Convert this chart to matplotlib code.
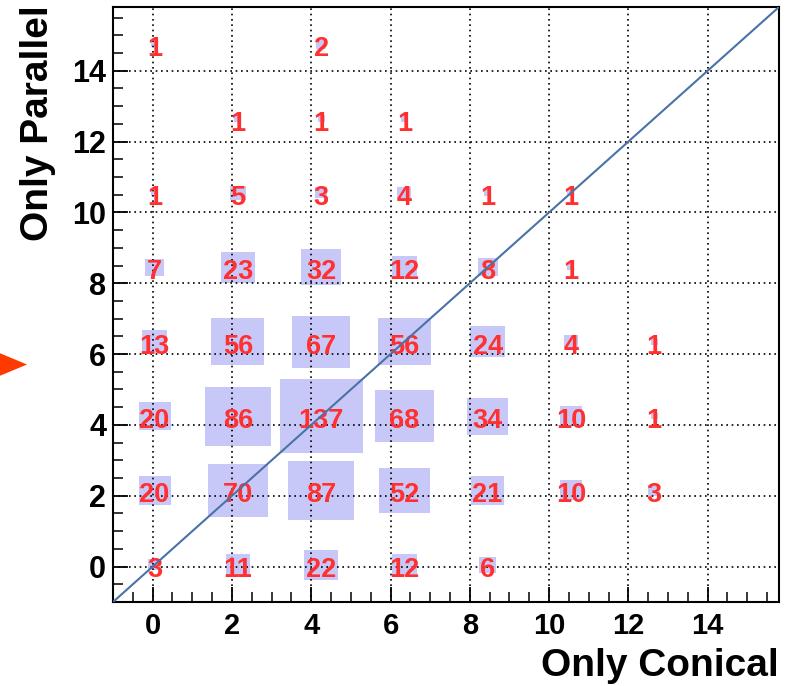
import numpy as np
import matplotlib
matplotlib.use("Agg")
import matplotlib.pyplot as plt
from matplotlib.patches import Rectangle, Polygon
from matplotlib.transforms import ScaledTranslation

# Histogram binning (same on both axes)
axis_lo = -1.0
bin_width = 2.1
n_bins = 8

# Event counts per cell: one list per "Only Parallel" bin (bottom to top),
# entries run over "Only Conical" bins (left to right); 0 = empty cell
counts_par0 = [3, 11, 22, 12, 6, 0, 0, 0]
counts_par1 = [20, 70, 87, 52, 21, 10, 3, 0]
counts_par2 = [20, 86, 137, 68, 34, 10, 1, 0]
counts_par3 = [13, 56, 67, 56, 24, 4, 1, 0]
counts_par4 = [7, 23, 32, 12, 8, 1, 0, 0]
counts_par5 = [1, 5, 3, 4, 1, 1, 0, 0]
counts_par6 = [0, 1, 1, 1, 0, 0, 0, 0]
counts_par7 = [1, 0, 2, 0, 0, 0, 0, 0]

x_label = "Only Conical"
y_label = "Only Parallel"
tick_values = [0, 2, 4, 6, 8, 10, 12, 14]

counts = np.array([counts_par0, counts_par1, counts_par2, counts_par3,
                   counts_par4, counts_par5, counts_par6, counts_par7])
edges = axis_lo + bin_width * np.arange(n_bins + 1)
centers = 0.5 * (edges[:-1] + edges[1:])
axis_hi = edges[-1]

plt.rcParams["font.family"] = ["Liberation Sans", "DejaVu Sans"]
plt.rcParams["font.weight"] = "bold"

W, H = 789, 686
fig = plt.figure(figsize=(W / 100, H / 100), dpi=100)
ax = fig.add_axes([113 / W, 1 - 602 / H, (779 - 113) / W, (602 - 7) / H])
ax.set_xlim(axis_lo, axis_hi)
ax.set_ylim(axis_lo, axis_hi)

# Boxes: area proportional to the cell content
box_color = "#c8c8f8"
text_color = "#ff3030"
cmax = counts.max()
for iy, yc in enumerate(centers):
    for ix, xc in enumerate(centers):
        c = counts[iy, ix]
        if c <= 0:
            continue
        side = bin_width * np.sqrt(c / cmax)
        ax.add_patch(Rectangle((xc - side / 2, yc - side / 2), side, side,
                               facecolor=box_color, edgecolor="none", zorder=1))

# Dotted grid at the major ticks
for v in tick_values:
    ax.axvline(v, color="black", lw=1.2, ls=(0, (1, 2.2)), zorder=2)
    ax.axhline(v, color="black", lw=1.2, ls=(0, (1, 2.2)), zorder=2)

# Cell contents as text (digits optically centred in the cell)
text_shift = ax.transData + ScaledTranslation(0, -5 / 100, fig.dpi_scale_trans)
for iy, yc in enumerate(centers):
    for ix, xc in enumerate(centers):
        c = counts[iy, ix]
        if c <= 0:
            continue
        ax.text(xc, yc, f"{c}", color=text_color, fontsize=19.5,
                fontweight="bold", ha="center", va="center", zorder=3,
                transform=text_shift)

# Diagonal reference line (equal counts)
ax.plot([axis_lo, axis_hi], [axis_lo, axis_hi], color="#4a72a6", lw=1.5,
        zorder=4)

# Axes styling: inward ticks, bold labels
ax.set_xticks(tick_values)
ax.set_yticks(tick_values)
ax.set_xticks(np.arange(-0.5, axis_hi, 0.5), minor=True)
ax.set_yticks(np.arange(-0.5, axis_hi, 0.5), minor=True)
ax.tick_params(which="major", direction="in", length=11, width=1.3,
               top=False, right=False)
ax.tick_params(which="minor", direction="in", length=7.5, width=1.1,
               top=False, right=False)
ax.tick_params(axis="x", which="major", labelsize=21, pad=7)
ax.tick_params(axis="y", which="major", labelsize=22, pad=5)
for lab in ax.get_xticklabels() + ax.get_yticklabels():
    lab.set_fontweight("bold")
for sp in ax.spines.values():
    sp.set_linewidth(1.5)

fig.text(779 / W, 1 - 676 / H, x_label, fontsize=28, fontweight="bold",
         ha="right", va="baseline")
fig.text(38 / W, 1 - 5 / H, y_label, fontsize=28, fontweight="bold",
         rotation=90, ha="center", va="top")

# Pointer marker on the left margin
fig.add_artist(Polygon([[-3 / W, 1 - 352 / H], [27 / W, 1 - 364.5 / H],
                        [-3 / W, 1 - 377 / H]], closed=True,
                       transform=fig.transFigure, facecolor="#ff3a00",
                       edgecolor="none"))

fig.savefig("out.png", dpi=100)
